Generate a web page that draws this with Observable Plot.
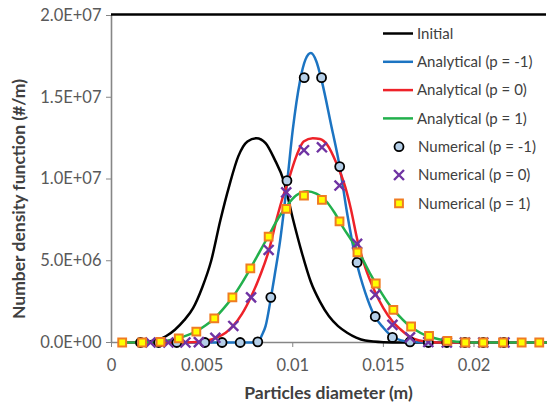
<!DOCTYPE html>
<html><head><meta charset="utf-8">
<script src="https://cdn.jsdelivr.net/npm/d3@7"></script>
<script src="https://cdn.jsdelivr.net/npm/@observablehq/plot@0.6"></script>
<style>
body{margin:0;background:#fff;}
#chart{position:relative;width:547px;height:409px;overflow:hidden;}
#chart svg{display:block;}
#legend{position:absolute;left:0;top:0;}
</style></head><body><div id="chart"></div>
<script>
// ---- tick labels ----
const xTicks = [0, 0.005, 0.01, 0.015, 0.02];
const xTickLabels = ["0", "0.005", "0.01", "0.015", "0.02"];
const yTicks = [0, 5e6, 1e7, 1.5e7, 2e7];
const yTickLabels = ["0.0E+00", "5.0E+06", "1.0E+07", "1.5E+07", "2.0E+07"];
const xTitle = "Particles diameter (m)";
const yTitle = "Number density function (#/m)";

// ---- Initial ----
const initialX = [0.0006, 0.0015, 0.002, 0.0025, 0.003, 0.0035, 0.004, 0.0045, 0.005, 0.0055, 0.006, 0.0065, 0.007, 0.0075, 0.008, 0.0085, 0.009, 0.0095, 0.01, 0.0105, 0.011, 0.0115, 0.012, 0.0125, 0.013, 0.0135, 0.014, 0.015, 0.016, 0.024];
const initialY = [0, 0, 0.05e6, 0.15e6, 0.38e6, 0.78e6, 1.35e6, 2.1e6, 3.35e6, 5.0e6, 7.45e6, 9.6e6, 11.4e6, 12.3e6, 12.5e6, 12.2e6, 11.2e6, 9.9e6, 7.6e6, 5.5e6, 3.7e6, 2.5e6, 1.6e6, 1.0e6, 0.6e6, 0.3e6, 0.12e6, 0.02e6, 0, 0];

// ---- Analytical p = -1 ----
const anaM1X = [0.0006, 0.0079, 0.0081, 0.0083, 0.0085, 0.0088, 0.009, 0.0093, 0.0097, 0.01, 0.0104, 0.0107, 0.011, 0.0113, 0.0116, 0.0121, 0.0126, 0.013, 0.0135, 0.014, 0.0145, 0.015, 0.0155, 0.016, 0.0165, 0.0175, 0.024];
const anaM1Y = [0, 0, 0.06e6, 0.45e6, 1.0e6, 2.76e6, 4.1e6, 6.2e6, 9.9e6, 13.0e6, 16.0e6, 17.3e6, 17.7e6, 17.2e6, 16.0e6, 13.4e6, 10.7e6, 7.9e6, 5.0e6, 3.05e6, 1.65e6, 0.9e6, 0.35e6, 0.13e6, 0.04e6, 0, 0];

// ---- Analytical p = 0 ----
const ana0X = [0.0006, 0.004, 0.0048, 0.0053, 0.0058, 0.0063, 0.0067, 0.0072, 0.0077, 0.0082, 0.0087, 0.0091, 0.0094, 0.0097, 0.0102, 0.0106, 0.0111, 0.0115, 0.0119, 0.0124, 0.0129, 0.0132, 0.0136, 0.014, 0.0145, 0.015, 0.0155, 0.016, 0.0165, 0.017, 0.0175, 0.018, 0.024];
const ana0Y = [0, 0, 0.03e6, 0.12e6, 0.3e6, 0.6e6, 1.0e6, 1.75e6, 2.8e6, 4.1e6, 5.7e6, 7.5e6, 8.7e6, 9.7e6, 11.4e6, 12.3e6, 12.5e6, 12.45e6, 12.1e6, 11.0e6, 9.5e6, 8.2e6, 6.1e6, 4.6e6, 3.2e6, 2.1e6, 1.3e6, 0.75e6, 0.32e6, 0.12e6, 0.03e6, 0, 0];

// ---- Analytical p = 1 ----
const ana1X = [0.0006, 0.002, 0.0027, 0.0032, 0.0037, 0.0042, 0.0047, 0.0052, 0.0057, 0.0062, 0.0067, 0.0072, 0.0077, 0.0082, 0.0087, 0.0092, 0.0097, 0.0102, 0.0108, 0.0113, 0.0118, 0.0123, 0.0128, 0.0133, 0.0138, 0.0143, 0.0148, 0.0153, 0.0158, 0.0163, 0.0168, 0.0173, 0.0178, 0.0183, 0.0188, 0.0195, 0.02, 0.024];
const ana1Y = [0, 0.01e6, 0.06e6, 0.14e6, 0.27e6, 0.45e6, 0.7e6, 1.05e6, 1.5e6, 2.1e6, 2.8e6, 3.65e6, 4.6e6, 5.6e6, 6.6e6, 7.6e6, 8.4e6, 9.0e6, 9.25e6, 9.1e6, 8.7e6, 7.95e6, 7.0e6, 6.15e6, 5.2e6, 4.15e6, 3.2e6, 2.35e6, 1.7e6, 1.15e6, 0.75e6, 0.45e6, 0.28e6, 0.15e6, 0.07e6, 0.02e6, 0, 0];

// ---- Numerical p = -1 ----
const numM1X = [0.0016, 0.0026, 0.0036, 0.00515, 0.0061, 0.0071, 0.00807, 0.00879, 0.00968, 0.01063, 0.01159, 0.01259, 0.01355, 0.01455, 0.0155, 0.01647, 0.01748, 0.0185, 0.0195, 0.02051, 0.02165];
const numM1Y = [0, 0, 0, 0, 0, 0, 0.04e6, 2.76e6, 9.9e6, 16.2e6, 16.2e6, 10.76e6, 4.9e6, 1.59e6, 0.31e6, 0.04e6, 0, 0, 0, 0, 0];

// ---- Numerical p = 0 ----
const num0X = [0.00215, 0.00314, 0.00408, 0.00482, 0.00573, 0.00672, 0.0077, 0.00867, 0.00964, 0.01062, 0.01161, 0.01258, 0.01355, 0.01455, 0.0155, 0.01647, 0.01748, 0.0185, 0.0195, 0.02051, 0.02168];
const num0Y = [0, 0, 0, 0.02e6, 0.29e6, 1.01e6, 2.76e6, 5.66e6, 9.18e6, 11.76e6, 11.94e6, 9.6e6, 6.03e6, 2.92e6, 1.08e6, 0.31e6, 0.03e6, 0, 0, 0, 0];

// ---- Numerical p = 1 ----
const num1X = [0.00059, 0.00169, 0.0027, 0.00371, 0.00468, 0.00567, 0.00667, 0.00766, 0.00867, 0.00964, 0.01062, 0.01161, 0.01258, 0.01357, 0.01458, 0.01555, 0.01653, 0.01752, 0.01853, 0.01952, 0.02051, 0.0216, 0.02263, 0.0236];
const num1Y = [0, 0, 0.04e6, 0.25e6, 0.66e6, 1.47e6, 2.76e6, 4.53e6, 6.47e6, 8.17e6, 8.98e6, 8.72e6, 7.41e6, 5.51e6, 3.61e6, 2.0e6, 0.98e6, 0.41e6, 0.1e6, 0, 0, 0, 0, 0];

const zip = (xs, ys) => xs.map((x, i) => ({x, y: ys[i]}));

const lineSeries = [
  {label: "Initial", color: "#000000", data: zip(initialX, initialY)},
  {label: "Analytical (p = -1)", color: "#1c74c2", data: zip(anaM1X, anaM1Y)},
  {label: "Analytical (p = 0)", color: "#ee2229", data: zip(ana0X, ana0Y)},
  {label: "Analytical (p = 1)", color: "#22b04c", data: zip(ana1X, ana1Y)}
];
const markerSeries = [
  {label: "Numerical (p = -1)", symbol: "circle", r: 4.5, fill: "#b5cfe8", stroke: "#000000", sw: 1.8, data: zip(numM1X, numM1Y)},
  {label: "Numerical (p = 0)", symbol: "times", r: 4.6, fill: "none", stroke: "#6f33a3", sw: 2.4, data: zip(num0X, num0Y)},
  {label: "Numerical (p = 1)", symbol: "square", r: 4.4, fill: "#ffff00", stroke: "#f07c22", sw: 2, data: zip(num1X, num1Y)}
];

const font = "Lato, 'Open Sans', sans-serif";

const plot = Plot.plot({
  width: 547, height: 409,
  marginLeft: 111, marginRight: 1, marginTop: 15, marginBottom: 67,
  style: {fontFamily: font, fontSize: "16.5px", color: "#595959", background: "#ffffff", overflow: "visible"},
  x: {domain: [0, 0.024]},
  y: {domain: [0, 2e7]},
  marks: [
    Plot.ruleX([0], {stroke: "#868686", strokeWidth: 1.6}),
    Plot.ruleY([0], {stroke: "#868686", strokeWidth: 1.6}),
    Plot.ruleY([2e7], {stroke: "#000000", strokeWidth: 2.5, dy: -1}),
    Plot.axisY({ticks: yTicks, tickFormat: d => yTickLabels[yTicks.indexOf(d)], tickSize: 5, tickPadding: 5, stroke: "#868686", fill: "#595959", label: null}),
    Plot.axisX({ticks: xTicks, tickFormat: d => xTickLabels[xTicks.indexOf(d)], tickSize: 5, tickPadding: 12, stroke: "#868686", fill: "#595959", label: null}),
    ...lineSeries.map(s => Plot.line(s.data, {x: "x", y: "y", stroke: s.color, strokeWidth: 2.5, curve: "monotone-x"})),
    ...markerSeries.map(s => Plot.dot(s.data, {x: "x", y: "y", symbol: s.symbol, r: s.r, fill: s.fill, stroke: s.stroke, strokeWidth: s.sw}))
  ]
});
const chart = document.getElementById("chart");
chart.appendChild(plot);

// ---- overlay: axis titles and legend ----
const leg = d3.select(chart).append("svg").attr("id", "legend").attr("width", 547).attr("height", 409)
  .style("font-family", font).style("font-size", "15px");
leg.append("text").attr("x", 328.5).attr("y", 393).attr("dy", "0.35em").attr("text-anchor", "middle")
  .attr("font-weight", "bold").attr("font-size", "17.5px").attr("fill", "#404040").text(xTitle);
leg.append("text").attr("transform", "translate(18.5,199) rotate(-90)").attr("dy", "0.35em").attr("text-anchor", "middle")
  .attr("font-weight", "bold").attr("font-size", "17.5px").attr("fill", "#404040").text(yTitle);

const rowY = i => 33.5 + 28.3 * i;
lineSeries.forEach((s, i) => {
  const g = leg.append("g").attr("transform", `translate(0,${rowY(i)})`);
  g.append("line").attr("x1", 383).attr("x2", 413).attr("stroke", s.color).attr("stroke-width", 2.5);
  g.append("text").attr("x", 417).attr("dy", "0.35em").attr("fill", "#404040").text(s.label);
});
markerSeries.forEach((s, j) => {
  const i = j + 4;
  const g = leg.append("g").attr("transform", `translate(0,${rowY(i)})`);
  const type = s.symbol === "circle" ? d3.symbolCircle : s.symbol === "times" ? d3.symbolTimes : d3.symbolSquare;
  g.append("path").attr("transform", "translate(399,0)").attr("d", d3.symbol(type, Math.PI * s.r * s.r)())
    .attr("fill", s.fill).attr("stroke", s.stroke).attr("stroke-width", s.sw);
  g.append("text").attr("x", 418).attr("dy", "0.35em").attr("fill", "#404040").text(s.label);
});
</script></body></html>
